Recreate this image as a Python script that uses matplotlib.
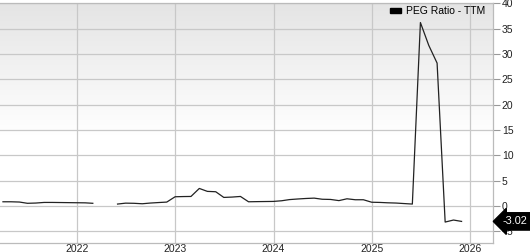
import numpy as np
import pandas as pd
import matplotlib
matplotlib.use("Agg")
import matplotlib.pyplot as plt
import matplotlib.dates as mdates
import matplotlib.transforms as mtransforms
from matplotlib.patches import Patch

# ---- data (month-end PEG ratio, TTM) ----
dates = pd.to_datetime([
    "2021-03-31", "2021-04-30", "2021-05-31", "2021-06-30", "2021-07-31", "2021-08-31",
    "2021-09-30", "2021-10-31", "2021-11-30", "2021-12-31", "2022-01-31", "2022-02-28",
    "2022-03-31", "2022-04-30",
    "2022-05-31", "2022-06-30", "2022-07-31", "2022-08-31", "2022-09-30", "2022-10-31",
    "2022-11-30", "2022-12-31", "2023-01-31", "2023-02-28", "2023-03-31", "2023-04-30",
    "2023-05-31", "2023-06-30", "2023-07-31", "2023-08-31", "2023-09-30", "2023-10-31",
    "2023-11-30", "2023-12-31", "2024-01-31", "2024-02-29", "2024-03-31", "2024-04-30",
    "2024-05-31", "2024-06-30", "2024-07-31", "2024-08-31", "2024-09-30", "2024-10-31",
    "2024-11-30", "2024-12-31", "2025-01-31", "2025-02-28", "2025-03-31", "2025-04-30",
    "2025-05-31", "2025-06-30", "2025-07-31", "2025-08-31", "2025-09-30", "2025-10-31",
    "2025-11-30",
])
peg = [
    0.85, 0.85, 0.80, 0.55, 0.60, 0.72,
    0.72, 0.70, 0.68, 0.66, 0.64, 0.55,
    np.nan, np.nan,
    0.40, 0.58, 0.55, 0.46, 0.60, 0.70,
    0.79, 1.84, 1.88, 1.90, 3.48, 2.90,
    2.83, 1.71, 1.78, 1.90, 0.85, 0.88,
    0.90, 0.92, 1.05, 1.28, 1.40, 1.50,
    1.57, 1.35, 1.31, 1.08, 1.44, 1.25,
    1.25, 0.76, 0.72, 0.65, 0.60, 0.50,
    0.40, 36.2, 31.7, 28.2, -3.15, -2.75,
    -3.02,
]
last_label = "-3.02"
series_name = "PEG Ratio - TTM"
y_ticks = [-5, 0, 5, 10, 15, 20, 25, 30, 35, 40]
x_years = [2022, 2023, 2024, 2025, 2026]

W, H, DPI = 530, 252, 100
plt.rcParams['font.family'] = ['Liberation Sans', 'DejaVu Sans']
fig = plt.figure(figsize=(W / DPI, H / DPI), dpi=DPI)

ax_right = 492.5
ax_bottom = 242.7
ax_top = 2.5
ax = fig.add_axes([0, (H - ax_bottom) / H, ax_right / W, (ax_bottom - ax_top) / H])

# gradient background
grad = np.linspace(0.0, 1.0, 256)
vals = np.clip(0.895 + 0.105 * (grad / 0.55), 0, 1)
img = np.dstack([vals, vals, vals]).reshape(256, 1, 3)
ax.imshow(img, extent=[0, 1, 0, 1], transform=ax.transAxes, aspect='auto',
          zorder=0, origin='upper')

ax.plot(dates, peg, color='#222222', lw=0.9, zorder=3)

ax.set_xlim(pd.Timestamp("2021-03-20"), pd.Timestamp("2026-03-25"))
ax.set_ylim(-7.22, 40.15)

ax.set_xticks([pd.Timestamp(f"{y}-01-01") for y in x_years])
ax.xaxis.set_major_formatter(mdates.DateFormatter("%Y"))
ax.set_yticks(y_ticks)

ax.yaxis.tick_right()
ax.tick_params(axis='y', direction='out', length=5.2, width=0.8, color='#999999',
               labelsize=7.5, labelcolor='#222222', pad=1.5)
ax.tick_params(axis='x', length=0, labelsize=7.5, labelcolor='#222222', pad=0.6)

ax.grid(True, color='#c8c8c8', lw=0.9, zorder=1)
ax.set_axisbelow(True)
ax.spines['left'].set_visible(False)
for s in ['right', 'bottom', 'top']:
    ax.spines[s].set_color('#bbbbbb')
    ax.spines[s].set_linewidth(0.9)

ax.legend(handles=[Patch(facecolor='black', edgecolor='black')],
          labels=[series_name], loc='upper right',
          bbox_to_anchor=(0.985, 0.985), frameon=False, fontsize=7.5,
          handlelength=1.0, handleheight=0.45, handletextpad=0.5,
          borderaxespad=0, borderpad=0)

# last value label (arrow box)
trans = mtransforms.blended_transform_factory(ax.transAxes, ax.transData)
ax.text(503.0 / ax_right, peg[-1], last_label, transform=trans, ha='left', va='center',
        color='white', fontsize=7.8, clip_on=False, zorder=5,
        bbox=dict(boxstyle='larrow,pad=0.34', fc='black', ec='black'))

fig.savefig("out.png", dpi=DPI)
